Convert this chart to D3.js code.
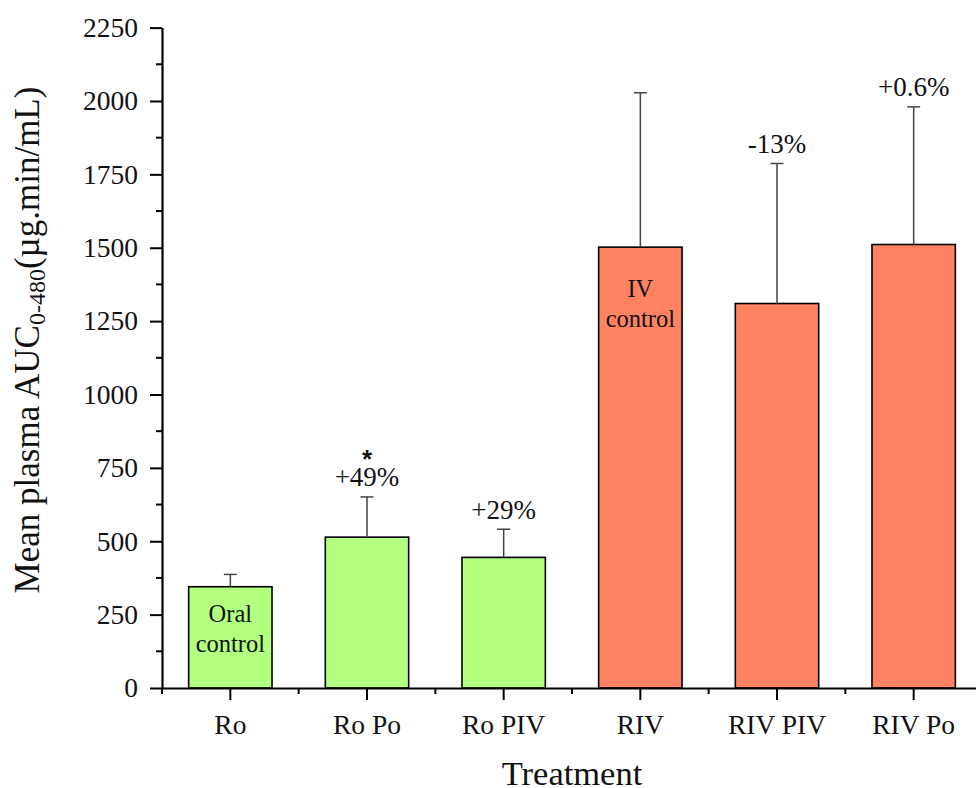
<!DOCTYPE html>
<html>
<head>
<meta charset="utf-8">
<script src="https://cdn.jsdelivr.net/npm/d3@7"></script>
<style>
  html, body { margin: 0; padding: 0; background: #fff; }
  svg { display: block; }
</style>
</head>
<body>
<svg id="chart" width="976" height="788"></svg>
<script>
// Treatment groups and mean plasma AUC (0-480 min), with upper SD
const treatments = ["Ro", "Ro Po", "Ro PIV", "RIV", "RIV PIV", "RIV Po"];
const meanAUC    = [345, 514, 445, 1502, 1310, 1511];
const sdAUC      = [42, 137, 96, 526, 477, 469];
const groupType  = ["oral", "oral", "oral", "iv", "iv", "iv"];
const changeText = ["", "+49%", "+29%", "", "-13%", "+0.6%"];
const starText   = ["", "*", "", "", "", ""];
const insideText = [["Oral", "control"], null, null, ["IV", "control"], null, null];
const yTicks     = [0, 250, 500, 750, 1000, 1250, 1500, 1750, 2000, 2250];

const fillColor = { oral: "#b3ff80", iv: "#ff8262" };
const SERIF = "'Liberation Serif', 'Times New Roman', serif";
const SANS = "'Liberation Sans', Arial, sans-serif";
// distance from bar top to first line of the in-bar caption
const captionOffset = { oral: 35, iv: 50 };

const svg = d3.select("#chart");
const plotLeft = 162, plotRight = 982, plotTop = 27.6, plotBottom = 688;

const x = d3.scaleBand().domain(treatments).range([plotLeft, plotRight]).paddingInner(0.39).paddingOuter(0.195);
const y = d3.scaleLinear().domain([0, 2250]).range([plotBottom, plotTop]);

// bars
svg.append("g").selectAll("rect")
  .data(treatments)
  .join("rect")
  .attr("x", d => x(d))
  .attr("width", x.bandwidth())
  .attr("y", (d, i) => y(meanAUC[i]))
  .attr("height", (d, i) => y(0) - y(meanAUC[i]))
  .attr("fill", (d, i) => fillColor[groupType[i]])
  .attr("stroke", "#000")
  .attr("stroke-width", 1.6);

// upper error bars
const eb = svg.append("g").attr("stroke", "#444").attr("stroke-width", 1.5);
treatments.forEach((d, i) => {
  const cx = x(d) + x.bandwidth() / 2;
  const yTop = y(meanAUC[i] + sdAUC[i]);
  eb.append("line").attr("x1", cx).attr("x2", cx).attr("y1", y(meanAUC[i])).attr("y2", yTop);
  eb.append("line").attr("x1", cx - 6.5).attr("x2", cx + 6.5).attr("y1", yTop).attr("y2", yTop);
});

// percentage change labels, significance mark and in-bar captions
treatments.forEach((d, i) => {
  const cx = x(d) + x.bandwidth() / 2;
  const yTop = y(meanAUC[i] + sdAUC[i]);
  if (changeText[i]) {
    svg.append("text").attr("x", cx).attr("y", yTop - 10.5)
      .attr("text-anchor", "middle").attr("font-size", 27)
      .attr("font-family", SERIF).attr("fill", "#111")
      .text(changeText[i]);
  }
  if (starText[i]) {
    svg.append("text").attr("x", cx).attr("y", yTop - 29)
      .attr("text-anchor", "middle").attr("font-size", 26).attr("font-weight", "bold")
      .attr("font-family", SANS).attr("fill", "#111")
      .text(starText[i]);
  }
  if (insideText[i]) {
    const t = svg.append("text").attr("text-anchor", "middle").attr("font-size", 24.5)
      .attr("font-family", SERIF).attr("fill", "#111");
    insideText[i].forEach((line, k) => {
      t.append("tspan").attr("x", cx)
        .attr("y", y(meanAUC[i]) + captionOffset[groupType[i]] + k * 30).text(line);
    });
  }
});

// y axis
const yAxis = d3.axisLeft(y).tickValues(yTicks).tickFormat(d3.format("d"))
  .tickSize(12).tickSizeOuter(0).tickPadding(12);
const gy = svg.append("g").attr("transform", `translate(${plotLeft},0)`).call(yAxis);
gy.select(".domain").attr("stroke-width", 2.2);
gy.selectAll(".tick line").attr("stroke-width", 2);
gy.selectAll(".tick text").attr("font-size", 27.5).attr("font-family", SERIF).attr("fill", "#111");
// minor y ticks
const yMinor = yTicks.slice(0, -1).map(v => v + 125);
svg.append("g").selectAll("line").data(yMinor).join("line")
  .attr("x1", plotLeft - 6).attr("x2", plotLeft).attr("y1", d => y(d)).attr("y2", d => y(d))
  .attr("stroke", "#000").attr("stroke-width", 2);

// x axis
const xAxis = d3.axisBottom(x).tickSize(12).tickSizeOuter(0).tickPadding(14);
const gx = svg.append("g").attr("transform", `translate(0,${plotBottom})`).call(xAxis);
gx.select(".domain").attr("stroke-width", 2.2);
gx.selectAll(".tick line").attr("stroke-width", 2);
gx.selectAll(".tick text").attr("font-size", 27.5).attr("font-family", SERIF).attr("fill", "#111");
// minor x ticks at the group boundaries
const xMinor = [plotLeft].concat(treatments.map(d => x(d) + x.bandwidth() / 2 + x.step() / 2));
svg.append("g").selectAll("line").data(xMinor).join("line")
  .attr("x1", d => d).attr("x2", d => d).attr("y1", plotBottom).attr("y2", plotBottom + 6)
  .attr("stroke", "#000").attr("stroke-width", 2);

// axis titles
svg.append("text").attr("x", 572).attr("y", 785)
  .attr("text-anchor", "middle").attr("font-size", 34.5)
  .attr("font-family", SERIF).attr("fill", "#111").text("Treatment");

const yt = svg.append("text").attr("transform", `translate(38.5,340) rotate(-90)`)
  .attr("text-anchor", "middle").attr("font-size", 35)
  .attr("font-family", SERIF).attr("fill", "#111");
yt.append("tspan").text("Mean plasma AUC");
yt.append("tspan").attr("font-size", 24).attr("dy", 6).text("0-480");
yt.append("tspan").attr("dy", -6).text("(µg.min/mL)");
</script>
</body>
</html>
